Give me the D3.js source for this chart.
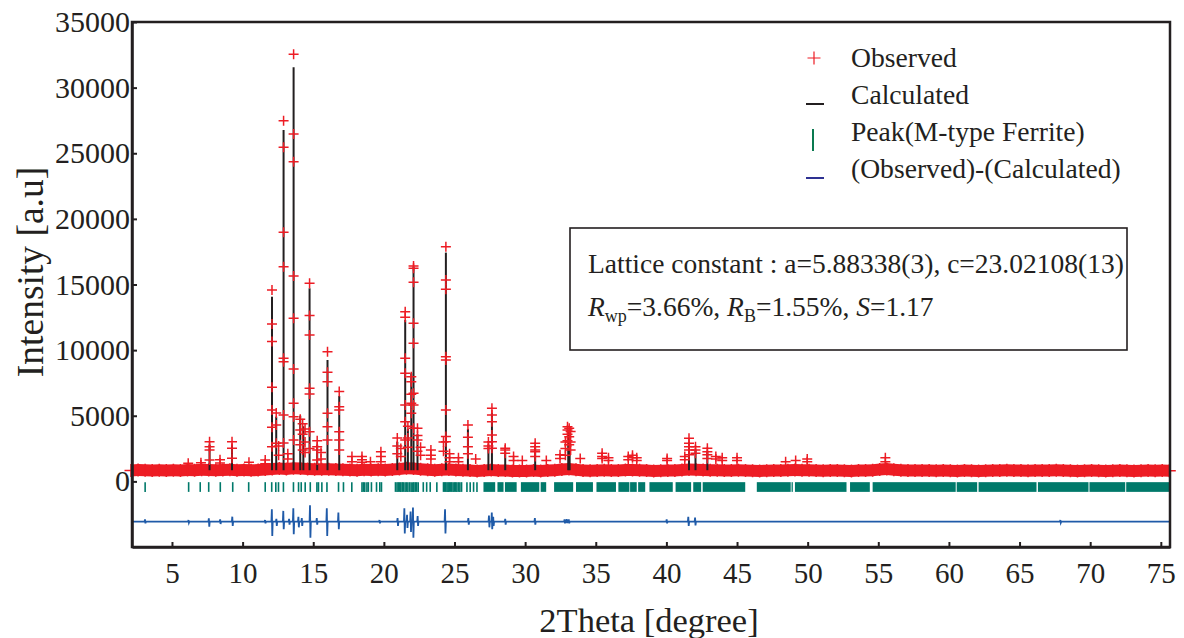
<!DOCTYPE html>
<html>
<head>
<meta charset="utf-8">
<script src="https://cdn.jsdelivr.net/npm/d3@7"></script>
<style>
  body { margin: 0; background: #fff; }
  svg { display: block; font-family: "Liberation Serif", "Times New Roman", serif; }
</style>
</head>
<body>
<div id="container"></div>
<script>
/* CONSTANTS AND GLOBALS */
const width = 1184,
  height = 638,
  margin = { top: 22, right: 14, bottom: 91, left: 132 };

const red = "#ed1c24", black = "#231f20", teal = "#00796a", blue = "#1f5aa8";

/* DATA */
// observed background band, 2θ = bgStart + i * bgStep
const bgStart = 2.1, bgStep = 0.5;
const bgObs = [
  820, 860, 850, 830, 840, 820, 850, 830, 870, 840,
  880, 860, 850, 870, 880, 850, 860, 840, 860, 900,
  950, 980, 950, 1000, 980, 950, 930, 920, 930, 900,
  880, 860, 850, 880, 860, 880, 870, 900, 950, 1000,
  980, 920, 880, 850, 880, 900, 860, 840, 820, 800,
  820, 860, 830, 820, 800, 790, 800, 820, 800, 820,
  850, 900, 950, 880, 820, 810, 830, 840, 820, 830,
  860, 870, 850, 820, 800, 810, 830, 820, 860, 900,
  880, 860, 850, 840, 820, 830, 850, 820, 810, 800,
  810, 820, 830, 850, 860, 840, 850, 820, 810, 830,
  820, 810, 800, 820, 830, 850, 900, 950, 880, 840,
  830, 820, 830, 820, 810, 820, 810, 800, 820, 810,
  800, 810, 820, 830, 850, 830, 820, 810, 820, 830,
  820, 840, 830, 810, 800, 810, 820, 810, 800, 810,
  820, 810, 800, 810, 820, 810, 820, 810
];

// observed points on the peaks
const peakObsTheta = [
  6.15, 7.05, 7.66, 8.40, 9.25, 10.45, 11.60, 12.08, 12.38, 12.55,
  12.90, 13.20, 13.61, 14.08, 14.25, 14.42, 14.74, 15.28, 15.55, 16.01,
  16.84, 17.74, 18.45, 19.05, 19.79, 20.95, 21.20, 21.51, 21.70, 21.94,
  22.10, 22.38, 22.60, 23.33, 24.22, 24.39, 24.65, 25.28, 25.95, 26.50,
  27.40, 27.65, 28.59, 29.18, 29.80, 30.71, 31.50, 32.47, 32.85, 33.00,
  33.12, 33.22, 33.90, 35.45, 35.90, 37.30, 37.60, 37.90, 40.05, 41.30,
  41.60, 42.06, 42.90, 43.50, 43.95, 45.00, 48.44, 49.15, 49.97, 55.50
];
const peakObsInt = [
  [1380], [1420, 1250], [3020, 2640, 2390, 1630], [1650, 1400], [3020, 2520, 1760],
  [1450], [1630, 1350], [14580, 11990, 10650, 7170, 5440, 4120, 2640], [5210, 4300, 2900], [2700, 2000],
  [27480, 25450, 18980, 16360, 9380, 9120, 5060, 2930], [2100, 1700],
  [32540, 26470, 24360, 15650, 12430, 8560, 5950, 4930, 3150], [4730, 3920, 2800], [4400, 3600, 2400],
  [4000, 3000, 2200], [15090, 12630, 11150, 7090, 6660, 3790, 2500], [3100, 2640, 2390, 1630], [2200, 1700],
  [9880, 8310, 7600, 5190, 4170, 3150],
  [6840, 5690, 5440, 3790, 3150, 2390], [1900, 1500], [1900, 1650, 1450], [1500], [2250, 1900, 1500],
  [3300, 2700, 2100], [2500, 1900], [12930, 12500, 9380, 8240, 5820, 4550, 3150], [4200, 3300, 2600],
  [7980, 7600, 6640, 5950, 5190],
  [16410, 16230, 15170, 12050, 10520, 6710, 5820, 4040], [4050, 3500, 3150, 2300], [2600, 2000],
  [2400, 2000, 1700], [3000, 2300], [17880, 15350, 14640, 9500, 9250, 5440, 3410, 3020],
  [2100, 1800, 1500], [1800, 1500], [4300, 3360, 2640, 2100], [1700],
  [3000, 2700, 2500], [5570, 5060, 4550, 3540, 3020, 2520], [2520, 2390, 2140], [1900, 1600], [1600],
  [2900, 2640, 2390, 2260, 1900], [1600], [2020, 1750], [3000, 2500, 2000], [4170, 3920, 3600, 3100],
  [4050, 3400, 2800], [3800, 3000, 2400], [1750], [2140, 1900, 1750], [1800, 1600],
  [1900, 1650], [2000, 1800], [1800, 1600], [1750, 1600], [1900, 1650],
  [3280, 2900, 2640, 2390, 2020], [2640, 2390, 2140], [2520, 2260, 2020, 1750], [1900, 1700], [1800, 1600],
  [1800, 1600], [1500], [1600], [1700, 1500], [1800, 1500]
];

// calculated profile peaks
const calcBase = 850;
const calcTheta = [
  7.66, 9.25, 12.08, 12.38, 12.90, 13.61, 14.08, 14.30, 14.74, 15.28,
  16.01, 16.84, 20.95, 21.51, 21.70, 21.94, 22.10, 22.38, 24.39, 25.95,
  27.40, 27.65, 28.59, 30.71, 33.05, 33.15, 41.60, 42.06, 42.90
];
const calcInt = [
  2800, 2800, 14070, 4930, 26770, 31550, 5000, 4200, 14710, 2800,
  9250, 6510, 3000, 12300, 4000, 8240, 16360, 3600, 17430, 4000,
  2800, 5200, 2300, 2700, 3900, 3700, 3000, 2400, 2300
];

// Bragg reflections, M-type ferrite (single ticks, then dense clusters)
const reflTheta = [
  3.10, 6.18, 7.00, 7.60, 8.42, 9.30, 10.43, 11.60, 12.06, 12.35,
  12.54, 12.89, 13.60, 13.96, 14.15, 14.43, 14.79, 15.26, 15.37, 15.61,
  15.97, 16.79, 17.14, 17.73, 18.45, 18.55, 18.65, 18.80, 18.90, 19.12,
  19.48, 19.71, 19.83, 20.82, 20.93, 21.02, 21.12, 21.20, 21.30, 21.38,
  21.50, 21.60, 21.70, 21.82, 21.93, 22.05, 22.12, 22.22, 22.32, 22.43,
  22.79, 23.03, 23.28, 23.75, 24.22, 24.30, 24.38, 24.47, 24.55, 24.63,
  24.72, 24.80, 24.90, 25.00, 25.08, 25.17, 25.28, 25.38, 25.50, 25.88,
  26.11, 26.35, 26.59
];
const reflClusters = [
  [27.05, 27.88], [28.04, 28.47], [28.57, 29.40], [29.70, 31.00], [31.10, 31.49],
  [32.05, 33.40], [33.60, 34.80], [35.05, 36.43], [36.60, 37.38], [37.43, 37.90],
  [38.00, 38.50], [38.80, 40.45], [40.65, 41.75], [41.90, 42.46], [42.57, 45.58],
  [46.40, 48.80], [48.86, 48.95], [49.10, 52.75], [53.00, 54.40], [54.60, 60.48],
  [60.55, 62.00], [62.10, 66.20], [66.30, 69.88], [69.95, 72.48], [72.55, 75.65]
];

// difference curve: baseline plus spikes at the peaks
const diffBase = -3070;
const diffTheta = [
  3.10, 6.18, 7.62, 8.42, 9.28, 11.60, 12.08, 12.40, 12.89, 13.30,
  13.60, 13.96, 14.20, 14.78, 15.26, 15.97, 16.79, 19.70, 20.98, 21.46,
  21.65, 21.90, 22.07, 22.40, 24.34, 25.99, 27.45, 27.65, 27.75, 28.60,
  30.70, 32.80, 32.95, 33.10, 40.03, 41.56, 42.04, 67.90
];
const diffHigh = [
  -2900, -2950, -2810, -2900, -2690, -2950, -2130, -2850, -2250, -2850,
  -2050, -2700, -2800, -1820, -2800, -2050, -2380, -2950, -2800, -2050,
  -2550, -2300, -2000, -2650, -2130, -2800, -2600, -2380, -2700, -2850,
  -2800, -2900, -2880, -2900, -2900, -2700, -2750, -2950
];
const diffLow = [
  -3200, -3150, -3450, -3250, -3400, -3200, -4160, -3400, -3650, -3300,
  -4030, -3500, -3400, -4290, -3300, -4160, -3650, -3200, -3400, -3970,
  -3550, -3850, -4290, -3400, -3970, -3300, -3500, -3650, -3400, -3300,
  -3300, -3200, -3180, -3200, -3200, -3400, -3350, -3150
];

const xTicks = [5, 10, 15, 20, 25, 30, 35, 40, 45, 50, 55, 60, 65, 70, 75];
const yTicks = [0, 5000, 10000, 15000, 20000, 25000, 30000, 35000];

const legendLabels = ["Observed", "Calculated", "Peak(M-type Ferrite)", "(Observed)-(Calculated)"];

/* SCALES */
const xScale = d3.scaleLinear()
  .domain([2.17, 75.65])
  .range([margin.left, width - margin.right]);

const yScale = d3.scaleLinear()
  .domain([-5000, 35000])
  .range([height - margin.bottom, margin.top]);

const plus = s => `M${-s},0H${s}M0,${-s}V${s}`;

/* SVG */
const svg = d3.select("#container")
  .append("svg")
  .attr("width", width)
  .attr("height", height);

// + REFLECTION TICKS
const reflTop = -60, reflBottom = -800;
svg.append("g")
  .selectAll("line")
  .data(reflTheta)
  .join("line")
  .attr("x1", d => xScale(d))
  .attr("x2", d => xScale(d))
  .attr("y1", yScale(reflTop))
  .attr("y2", yScale(reflBottom))
  .attr("stroke", teal)
  .attr("stroke-width", 1.6);

svg.append("g")
  .selectAll("rect")
  .data(reflClusters)
  .join("rect")
  .attr("x", d => xScale(d[0]))
  .attr("width", d => xScale(d[1]) - xScale(d[0]))
  .attr("y", yScale(reflTop))
  .attr("height", yScale(reflBottom) - yScale(reflTop))
  .attr("fill", teal);

// + DIFFERENCE CURVE
const diffPts = [[bgStart, diffBase]];
diffTheta.forEach((t, i) => {
  diffPts.push([t - 0.04, diffBase], [t - 0.01, diffHigh[i]], [t + 0.02, diffLow[i]], [t + 0.05, diffBase]);
});
diffPts.push([75.65, diffBase]);

svg.append("path")
  .datum(diffPts)
  .attr("fill", "none")
  .attr("stroke", blue)
  .attr("stroke-width", 1.8)
  .attr("d", d3.line().x(d => xScale(d[0])).y(d => yScale(d[1])));

// + OBSERVED BACKGROUND BAND
const bgPts = bgObs.map((v, i) => [bgStart + i * bgStep, v]);
const bandHalf = 6;

svg.append("path")
  .datum(bgPts)
  .attr("fill", red)
  .attr("d", d3.area()
    .x(d => xScale(d[0]))
    .y0(d => yScale(d[1]) + bandHalf)
    .y1(d => yScale(d[1]) - bandHalf));

svg.append("g")
  .selectAll("path")
  .data(bgPts)
  .join("path")
  .attr("transform", d => `translate(${xScale(d[0])},${yScale(d[1])})`)
  .attr("d", plus(6.5))
  .attr("stroke", red)
  .attr("stroke-width", 1.5);

// + CALCULATED PROFILE
svg.append("g")
  .selectAll("line")
  .data(calcTheta)
  .join("line")
  .attr("x1", d => xScale(d))
  .attr("x2", d => xScale(d))
  .attr("y1", yScale(calcBase))
  .attr("y2", (d, i) => yScale(calcInt[i]))
  .attr("stroke", black)
  .attr("stroke-width", 2);

// + OBSERVED PEAK POINTS
const peakPts = peakObsTheta.flatMap((t, i) => peakObsInt[i].map(v => [t, v]));
svg.append("g")
  .selectAll("path")
  .data(peakPts)
  .join("path")
  .attr("transform", d => `translate(${xScale(d[0])},${yScale(d[1])})`)
  .attr("d", plus(5))
  .attr("stroke", red)
  .attr("stroke-width", 1.5);

// + AXES
const xAxis = d3.axisBottom(xScale)
  .tickValues(xTicks)
  .tickSizeInner(-5)
  .tickSizeOuter(0)
  .tickPadding(15);

const yAxis = d3.axisLeft(yScale)
  .tickValues(yTicks)
  .tickFormat(d3.format("d"))
  .tickSizeInner(-5)
  .tickSizeOuter(0)
  .tickPadding(2);

const gx = svg.append("g")
  .attr("transform", `translate(0,${height - margin.bottom})`)
  .call(xAxis);

const gy = svg.append("g")
  .attr("transform", `translate(${margin.left},0)`)
  .call(yAxis);

[gx, gy].forEach(g => {
  g.select(".domain").attr("stroke", black).attr("stroke-width", 2.5);
  g.selectAll(".tick line").attr("stroke", black).attr("stroke-width", 2);
  g.selectAll(".tick text")
    .attr("fill", black)
    .attr("font-family", "Liberation Serif");
});
gx.selectAll(".tick text").attr("font-size", 29);
gy.selectAll(".tick text").attr("font-size", 30);

// frame
svg.append("rect")
  .attr("x", margin.left)
  .attr("y", margin.top)
  .attr("width", width - margin.right - margin.left)
  .attr("height", height - margin.bottom - margin.top)
  .attr("fill", "none")
  .attr("stroke", black)
  .attr("stroke-width", 2.5);

// + AXIS TITLES
svg.append("text")
  .attr("x", 649)
  .attr("y", 632)
  .attr("text-anchor", "middle")
  .attr("font-size", 34.5)
  .attr("fill", black)
  .text("2Theta [degree]");

svg.append("text")
  .attr("transform", "translate(43,272) rotate(-90)")
  .attr("text-anchor", "middle")
  .attr("font-size", 37.5)
  .attr("fill", black)
  .text("Intensity [a.u]");

// + LEGEND
const legend = svg.append("g").attr("transform", "translate(815,0)");
const legendY = [67, 104, 141, 178];

legend.selectAll("text")
  .data(legendLabels)
  .join("text")
  .attr("x", 36)
  .attr("y", (d, i) => legendY[i])
  .attr("font-size", 27.6)
  .attr("fill", black)
  .text(d => d);

legend.append("path")
  .attr("transform", "translate(-1,58)")
  .attr("d", plus(6.5))
  .attr("stroke", red)
  .attr("stroke-width", 1.2);
legend.append("line")
  .attr("x1", -9).attr("x2", 9).attr("y1", 104).attr("y2", 104)
  .attr("stroke", black).attr("stroke-width", 2);
legend.append("line")
  .attr("x1", -2).attr("x2", -2).attr("y1", 129).attr("y2", 151)
  .attr("stroke", "#0a7a50").attr("stroke-width", 2);
legend.append("line")
  .attr("x1", -9).attr("x2", 9).attr("y1", 178).attr("y2", 178)
  .attr("stroke", "#2e3192").attr("stroke-width", 2);

// + RESULT BOX
const box = svg.append("g");
box.append("rect")
  .attr("x", 570).attr("y", 228)
  .attr("width", 557).attr("height", 122)
  .attr("fill", "#fff")
  .attr("stroke", black)
  .attr("stroke-width", 1.6);

box.append("text")
  .attr("x", 588).attr("y", 273)
  .attr("font-size", 27.5)
  .attr("fill", black)
  .text("Lattice constant : a=5.88338(3), c=23.02108(13)");

const fit = box.append("text")
  .attr("x", 588).attr("y", 316)
  .attr("font-size", 27.5)
  .attr("fill", black);
fit.append("tspan").attr("font-style", "italic").text("R");
fit.append("tspan").attr("font-size", 18).attr("dy", 6).text("wp");
fit.append("tspan").attr("dy", -6).text("=3.66%, ");
fit.append("tspan").attr("font-style", "italic").text("R");
fit.append("tspan").attr("font-size", 18).attr("dy", 6).text("B");
fit.append("tspan").attr("dy", -6).text("=1.55%, ");
fit.append("tspan").attr("font-style", "italic").text("S");
fit.append("tspan").text("=1.17");
</script>
</body>
</html>
